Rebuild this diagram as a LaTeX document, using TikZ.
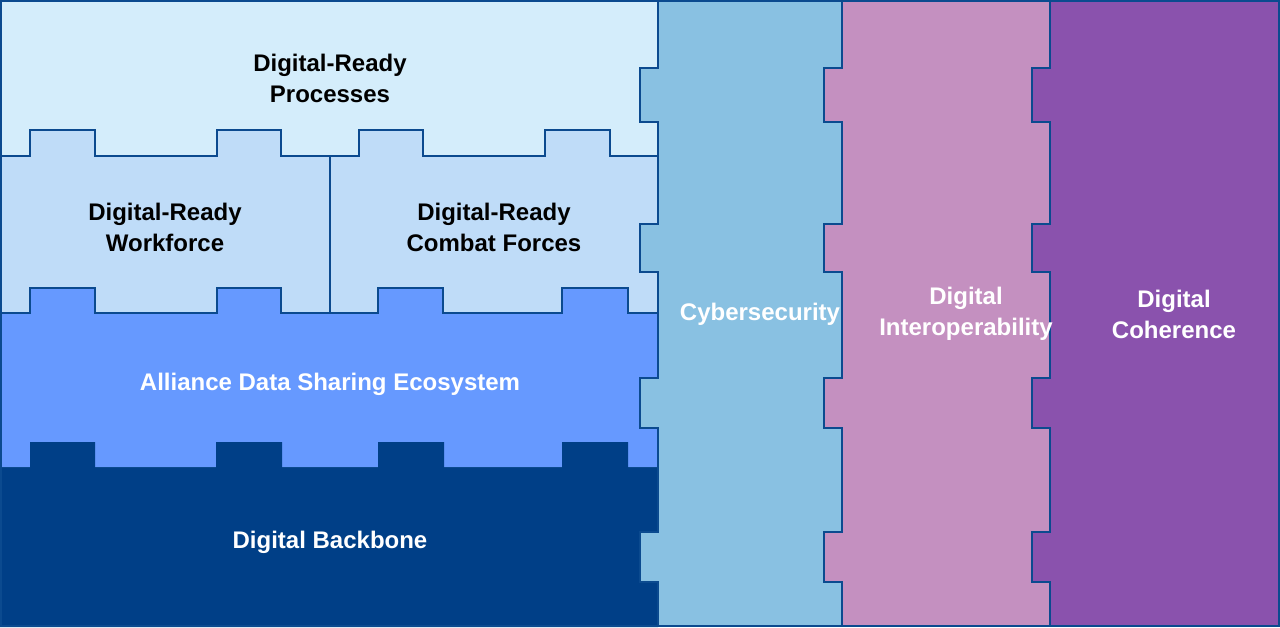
\documentclass[tikz,border=0pt]{standalone}
\usepackage{fontspec}
\setmainfont{Liberation Sans}
\definecolor{edge}{HTML}{0B4A8F}
\definecolor{cproc}{HTML}{D4EDFB}
\definecolor{cwork}{HTML}{BFDCF8}
\definecolor{call}{HTML}{6699FF}
\definecolor{cback}{HTML}{003F87}
\definecolor{ccyb}{HTML}{89C1E2}
\definecolor{cint}{HTML}{C490C0}
\definecolor{ccoh}{HTML}{8A52AD}
\begin{document}
\begin{tikzpicture}[x=1pt,y=-1pt,
  piece/.style={draw=edge,line width=2.2pt,line join=miter},
  lbl/.style={font=\fontsize{24}{31}\selectfont\bfseries,align=center}]
\useasboundingbox (0,0) rectangle (1280,627);
% processes
\path[piece,fill=cproc] (0,0) rectangle (658,156);
% workforce / combat
\path[piece,fill=cwork] (0,313) -- (0,156) -- (30,156) -- (30,130) -- (95,130) -- (95,156)
  -- (217,156) -- (217,130) -- (281,130) -- (281,156) -- (359,156) -- (359,130) -- (423,130) -- (423,156)
  -- (545,156) -- (545,130) -- (610,130) -- (610,156) -- (658,156) -- (658,313) -- cycle;
\draw[edge,line width=2pt] (330,156) -- (330,313);
% alliance
\path[piece,fill=call] (0,468) -- (0,313) -- (30,313) -- (30,288) -- (95,288) -- (95,313)
  -- (217,313) -- (217,288) -- (281,288) -- (281,313) -- (378,313) -- (378,288) -- (443,288) -- (443,313)
  -- (562,313) -- (562,288) -- (628,288) -- (628,313) -- (658,313) -- (658,468) -- cycle;
% backbone
\path[fill=cback] (0,627) -- (0,468) -- (30,468) -- (30,442) -- (95,442) -- (95,468)
  -- (216,468) -- (216,442) -- (282,442) -- (282,468) -- (378,468) -- (378,442) -- (444,442) -- (444,468)
  -- (562,468) -- (562,442) -- (628,442) -- (628,468) -- (658,468) -- (658,627) -- cycle;
% columns
\foreach \l/\r/\c in {658/862/ccyb, 842/1070/cint, 1050/1278.9/ccoh}{
  \pgfmathsetmacro{\t}{\l-18}
  \path[piece,fill=\c] (\l,1) -- (\r,1) -- (\r,626) -- (\l,626) -- (\l,582) -- (\t,582) -- (\t,532) -- (\l,532)
    -- (\l,428) -- (\t,428) -- (\t,378) -- (\l,378) -- (\l,272) -- (\t,272) -- (\t,224) -- (\l,224)
    -- (\l,122) -- (\t,122) -- (\t,68) -- (\l,68) -- cycle;
}
\draw[edge,line width=2.2pt] (0,1) -- (1280,1) (1,0) -- (1,627) (0,626) -- (1280,626);
\node[lbl] (proc) at (330,78) {Digital-Ready\\Processes};
\node[lbl] (work) at (165,227) {Digital-Ready\\Workforce};
\node[lbl] (comb) at (494,227) {Digital-Ready\\Combat Forces};
\node[lbl,text=white] (all) at (330,384) {Alliance Data Sharing Ecosystem};
\node[lbl,text=white] (back) at (330,542) {Digital Backbone};
\node[lbl,text=white] (cyb) at (760,314) {Cybersecurity};
\node[lbl,text=white] (int) at (966,314) {Digital\\Interoperability};
\node[lbl,text=white] (coh) at (1174,314) {Digital\\Coherence};
\end{tikzpicture}
\end{document}
